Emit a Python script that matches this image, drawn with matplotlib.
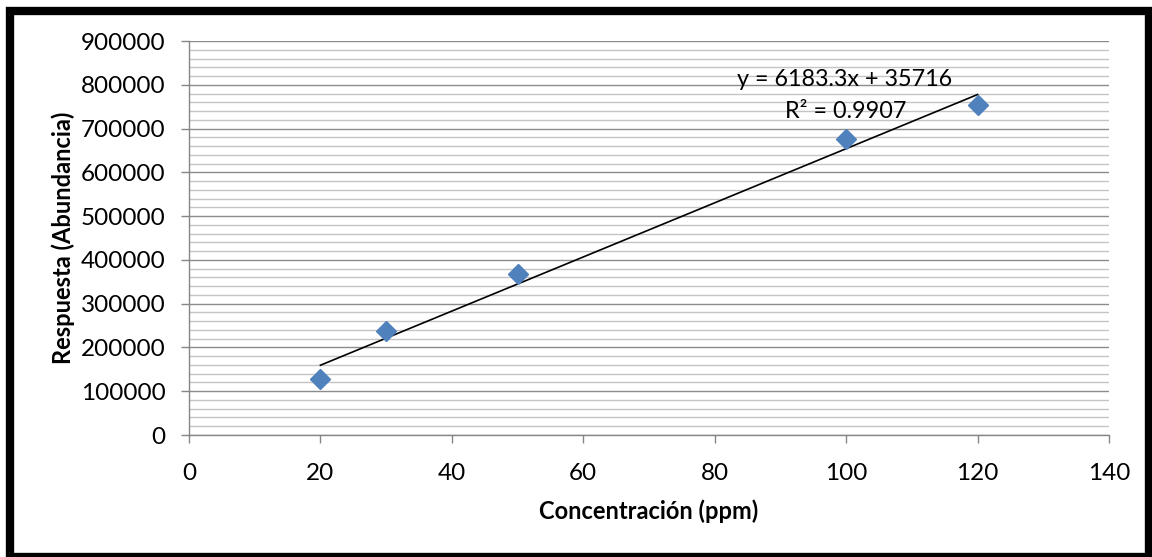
import matplotlib
matplotlib.use("Agg")
import matplotlib.pyplot as plt
from matplotlib.ticker import MultipleLocator
from matplotlib.patches import Rectangle
import numpy as np

plt.rcParams['font.family'] = ['Lato', 'DejaVu Sans']

# Data
concentracion = [20, 30, 50, 100, 120]
respuesta = [128000, 237000, 368000, 676000, 753000]
slope, intercept = 6183.3, 35716
r2_text = "R² = 0.9907"
eq_text = "y = 6183.3x + 35716"
xticks = [0, 20, 40, 60, 80, 100, 120, 140]
yticks = [0, 100000, 200000, 300000, 400000, 500000, 600000, 700000, 800000, 900000]

fig = plt.figure(figsize=(11.52, 5.57), dpi=100)
ax = fig.add_axes([189/1152, 1-435/557, (1109-189)/1152, (435-41)/557])

ax.set_xlim(0, 140)
ax.set_ylim(0, 900000)
ax.set_xticks(xticks)
ax.set_yticks(yticks)
ax.set_xticklabels([str(v) for v in xticks])
ax.set_yticklabels([str(v) for v in yticks])
ax.yaxis.set_minor_locator(MultipleLocator(20000))

ax.grid(axis='y', which='major', color='#8c8c8c', lw=1.0, zorder=0)
ax.grid(axis='y', which='minor', color='#c4c4c4', lw=1.0, zorder=0)
ax.set_axisbelow(True)

for s in ['top', 'right']:
    ax.spines[s].set_visible(False)
for s in ['left', 'bottom']:
    ax.spines[s].set_color('#868686')
    ax.spines[s].set_linewidth(1.0)

ax.tick_params(axis='both', which='major', direction='out', length=6, width=1.0,
               color='#868686', labelsize=17.5, labelcolor='black')
ax.tick_params(axis='y', which='minor', length=0)
ax.tick_params(axis='x', pad=14)
ax.tick_params(axis='y', pad=11)

# trendline
xt = np.array([min(concentracion), max(concentracion)])
ax.plot(xt, slope * xt + intercept, color='black', lw=1.2, zorder=2)

ax.plot(concentracion, respuesta, linestyle='none', marker='D', markersize=10.5,
        color='#4F81BD', markeredgecolor='#4F81BD', zorder=3, clip_on=False)

ax.set_xlabel('Concentración (ppm)', fontsize=17, fontweight='bold', labelpad=11)
ax.set_ylabel('Respuesta (Abundancia)', fontsize=17, fontweight='bold', labelpad=4)

ax.text(845/1152, 1-80/557, eq_text, transform=fig.transFigure, ha='center', va='center',
        fontsize=16.8)
ax.text(846/1152, 1-112/557, r2_text, transform=fig.transFigure, ha='center', va='center',
        fontsize=16.8)

# outer frame
fig.patches.append(Rectangle((10/1152, 0), (1149-10)/1152, 1-11/557, transform=fig.transFigure,
                             fill=False, edgecolor='black', lw=6, zorder=10))

fig.savefig('out.png', dpi=100)
